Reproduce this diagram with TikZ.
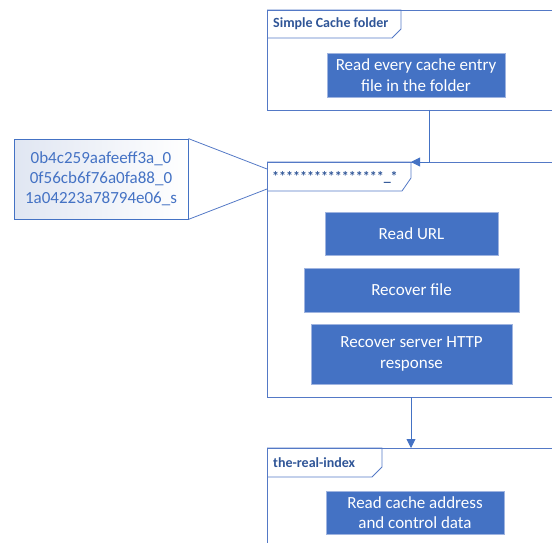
\documentclass[tikz,border=0pt]{standalone}
\usepackage{fontspec}
\setmainfont{Carlito}
\usetikzlibrary{arrows.meta}
\definecolor{accent}{HTML}{4472C4}
\definecolor{framec}{HTML}{5479C6}
\definecolor{titlec}{HTML}{2F5597}
\definecolor{boxedge}{HTML}{9FB4E0}
\definecolor{notefill}{HTML}{E0E6F2}

\begin{document}
\begin{tikzpicture}[x=1pt,y=-1pt,
  framebox/.style={draw=framec,line width=0.8pt},
  tabtitle/.style={anchor=west,inner sep=0pt,font=\fontsize{14}{16}\selectfont\bfseries,text=titlec},
  stepbox/.style={fill=accent,draw=boxedge,line width=0.6pt,text=white,align=center,
    font=\fontsize{17}{20.5}\selectfont,inner sep=0pt},
  conn/.style={draw=accent,line width=0.9pt},
  tip/.style={-{Triangle[length=9pt,width=9pt]}}
]
\useasboundingbox (0,0) rectangle (552,543);
\clip (0,0) rectangle (552,543);

% swimlane frames (they run on past the right edge)
\node[framebox,anchor=north west,inner sep=0pt,minimum width=373,minimum height=100] (f1) at (267,10) {};
\node[framebox,anchor=north west,inner sep=0pt,minimum width=373,minimum height=235] (f2) at (267,162) {};
\node[framebox,anchor=north west,inner sep=0pt,minimum width=373,minimum height=150] (f3) at (267,448) {};

% title tabs
\draw[framebox] (267,10) -- (401,10) -- (401,29) -- (392,38) -- (267,38);
\draw[framebox] (267,162) -- (411,162) -- (411,178) -- (402,191) -- (267,191);
\draw[framebox] (267,448) -- (382,448) -- (382,467) -- (372,477) -- (267,477);
\node[tabtitle] (t1) at (273,24) {Simple Cache folder};
\node[tabtitle] (t2) at (272,177) {****************\_*};
\node[tabtitle] (t3) at (273,462.5) {the-real-index};

% steps
\node[stepbox,minimum width=178,minimum height=44] (b1) at (416,75)
  {Read every cache entry\\file in the folder};
\node[stepbox,minimum width=173,minimum height=43] (b2) at (411.5,233.5) {Read URL};
\node[stepbox,minimum width=215,minimum height=44] (b3) at (411.5,290) {Recover file};
\node[stepbox,minimum width=201,minimum height=60] (b4) at (411.5,354)
  {Recover server HTTP\\response};
\node[stepbox,minimum width=178,minimum height=43] (b5) at (415,512.5)
  {Read cache address\\and control data};

% note with the file names
\node[draw=accent,line width=0.8pt,left color=notefill,right color=white,
  minimum width=174,minimum height=80,inner sep=0pt,align=center,text=accent,
  font=\fontsize{17}{20}\selectfont] (note) at (101,179)
  {0b4c259aafeeff3a\_0\\0f56cb6f76a0fa88\_0\\1a04223a78794e06\_s};
\coordinate (tab2a) at (267,169);
\coordinate (tab2b) at (267,189);
\draw[framebox] (note.north east) -- (tab2a);
\draw[framebox] (note.south east) -- (tab2b);

% flow between frames
\coordinate (f1out) at (429,110);
\coordinate (tab2ne) at (411,162);
\draw[conn,tip] (f1out) |- (tab2ne);
\coordinate (f2out) at (411,397);
\coordinate (f3in) at (411,448);
\draw[conn,tip] (f2out) -- (f3in);
\end{tikzpicture}
\end{document}
